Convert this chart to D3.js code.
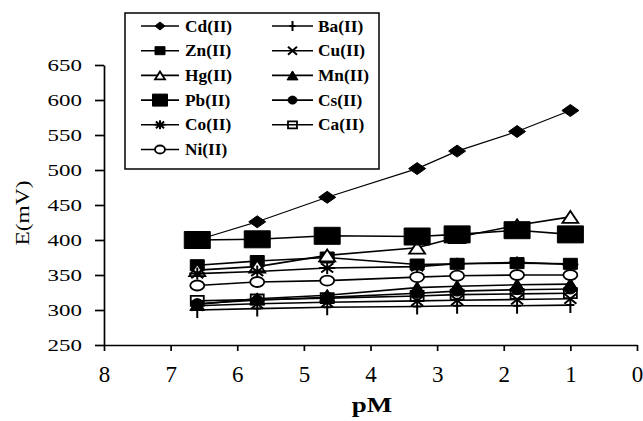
<!DOCTYPE html>
<html><head><meta charset="utf-8">
<script src="https://cdn.jsdelivr.net/npm/d3@7"></script>
<style>body{margin:0;background:#fff}svg{display:block}</style>
</head><body><svg id="c" width="643" height="421"></svg>
<script>
// ---- data ----
const pM = [6.6, 5.7, 4.65, 3.3, 2.7, 1.8, 1.0];
const xTicks = [8, 7, 6, 5, 4, 3, 2, 1, 0];
const yTicks = [250, 300, 350, 400, 450, 500, 550, 600, 650];
const legendOrder = ["Cd(II)", "Ba(II)", "Zn(II)", "Cu(II)", "Hg(II)", "Mn(II)", "Pb(II)", "Cs(II)", "Co(II)", "Ca(II)", "Ni(II)"];
const Cd = [400, 426, 461, 502, 527, 555, 585];
const Ba = [300, 302, 304, 305, 306, 306, 307];
const Zn = [364, 370, 375, 365, 366, 367, 366];
const Cu = [306, 309, 311, 313, 314, 315, 316];
const Hg = [357, 362, 378, 389, 404, 421, 433];
const Mn = [308, 316, 321, 332, 334, 336, 337];
const Pb = [400, 401, 406, 405, 408, 414, 408];
const Cs = [309, 314, 318, 324, 327, 329, 330];
const Co = [352, 355, 360, 362, 366, 368, 365];
const Ca = [313, 315, 317, 320, 322, 323, 324];
const Ni = [335, 340, 342, 347, 349, 350, 350];
const seriesValues = {"Cd(II)": Cd, "Ba(II)": Ba, "Zn(II)": Zn, "Cu(II)": Cu, "Hg(II)": Hg, "Mn(II)": Mn,
  "Pb(II)": Pb, "Cs(II)": Cs, "Co(II)": Co, "Ca(II)": Ca, "Ni(II)": Ni};

// ---- styles ----
const markerStyle = {
  "Cd(II)": {t: "diamond", w: 17, h: 12, fill: "black", line: 1.2, legW: 10, legH: 8},
  "Ba(II)": {t: "plus", w: 8, h: 16, fill: "none", line: 1.6, legW: 6, legH: 10},
  "Zn(II)": {t: "square", w: 14, h: 11, fill: "black", line: 1.6, legW: 10, legH: 8},
  "Cu(II)": {t: "cross", w: 12, h: 10, fill: "none", line: 1.6, legW: 9, legH: 8},
  "Hg(II)": {t: "triangle", w: 16, h: 12, fill: "white", line: 1.6, legW: 10, legH: 8},
  "Mn(II)": {t: "triangle", w: 15, h: 12, fill: "black", line: 1.6, legW: 11, legH: 9},
  "Pb(II)": {t: "square", w: 26, h: 17, fill: "black", line: 1.6, legW: 15, legH: 12},
  "Cs(II)": {t: "circle", w: 12, h: 10, fill: "black", line: 1.6, legW: 9, legH: 8},
  "Co(II)": {t: "asterisk", w: 16, h: 12, fill: "none", line: 1.6, legW: 11, legH: 9},
  "Ca(II)": {t: "square", w: 13, h: 10, fill: "none", line: 1.6, legW: 9, legH: 7},
  "Ni(II)": {t: "circle", w: 14, h: 10, fill: "white", line: 1.6, legW: 10, legH: 8}
};
const drawOrder = legendOrder;

function markerPath(t, w, h) {
  const a = w / 2, b = h / 2;
  switch (t) {
    case "diamond": return `M0,${-b}L${a},0L0,${b}L${-a},0Z`;
    case "square": return `M${-a},${-b}H${a}V${b}H${-a}Z`;
    case "triangle": return `M0,${-b}L${a},${b}H${-a}Z`;
    case "circle": return `M${-a},0A${a},${b} 0 1 0 ${a},0A${a},${b} 0 1 0 ${-a},0Z`;
    case "asterisk": return `M${-a},0H${a}M0,${-b}V${b}M${-a*0.75},${-b*0.75}L${a*0.75},${b*0.75}M${-a*0.75},${b*0.75}L${a*0.75},${-b*0.75}`;
    case "plus": return `M0,${-b}V${b}M${-a},0H${a}`;
    case "cross": return `M${-a},${-b}L${a},${b}M${-a},${b}L${a},${-b}`;
  }
}
function styleMarker(sel, st) {
  const stroked = ["asterisk", "plus", "cross"].includes(st.t);
  sel.attr("fill", stroked ? "none" : st.fill)
     .attr("stroke", "black")
     .attr("stroke-width", stroked ? 2 : (st.fill === "black" ? 1 : 1.8));
}

const svg = d3.select("#c");
svg.append("rect").attr("width", 643).attr("height", 421).attr("fill", "white");

const x = d3.scaleLinear().domain([8, 0]).range([104, 637]);
const y = d3.scaleLinear().domain([250, 650]).range([345, 65]);

// axes
const yAxis = svg.append("g").attr("transform", "translate(104,0)")
  .call(d3.axisLeft(y).tickValues(yTicks).tickSize(9).tickSizeOuter(0).tickFormat(d3.format("d")));
yAxis.selectAll("path,line").attr("stroke", "black").attr("stroke-width", 1.7);
yAxis.selectAll("text").attr("font-family", "'Liberation Serif', serif").attr("font-size", 17)
  .attr("fill", "black").attr("x", -16.3).attr("dy", "0.35em").attr("transform", "scale(1.35,1)");

const xAxis = svg.append("g").attr("transform", "translate(0,345)")
  .call(d3.axisBottom(x).tickValues(xTicks).tickSize(6).tickSizeOuter(0).tickFormat(d3.format("d")));
xAxis.selectAll("path,line").attr("stroke", "black").attr("stroke-width", 1.7);
xAxis.selectAll("text").attr("font-family", "'Liberation Serif', serif").attr("font-size", 23)
  .attr("fill", "black").attr("y", 36.7).attr("dy", 0);

// axis titles
svg.append("text").attr("transform", "translate(29,213) rotate(-90) scale(1.3,1)")
  .attr("text-anchor", "middle").attr("font-family", "'Liberation Serif', serif")
  .attr("fill", "black").attr("font-size", 18).text("E(mV)");
svg.append("text").attr("transform", "translate(372,412) scale(1.35,1)")
  .attr("text-anchor", "middle").attr("font-family", "'Liberation Serif', serif")
  .attr("fill", "black").attr("font-weight", "bold").attr("font-size", 20).text("pM");

// series
const line = d3.line().x((d, i) => x(pM[i])).y(d => y(d));
drawOrder.forEach(name => {
  const vals = seriesValues[name], st = markerStyle[name];
  const g = svg.append("g");
  g.append("path").datum(vals).attr("d", line).attr("fill", "none")
    .attr("stroke", "black").attr("stroke-width", st.line);
  g.selectAll("path.m").data(vals).enter().append("path").attr("class", "m")
    .attr("transform", (d, i) => `translate(${x(pM[i])},${y(d)})`)
    .attr("d", markerPath(st.t, st.w, st.h))
    .call(styleMarker, st);
});

// legend
const leg = svg.append("g");
leg.append("rect").attr("x", 125).attr("y", 13).attr("width", 254).attr("height", 156)
  .attr("fill", "white").attr("stroke", "black").attr("stroke-width", 1.5);
legendOrder.forEach((name, i) => {
  const col = i % 2, row = Math.floor(i / 2);
  const cy = 26 + row * 24.7;
  const x0 = col === 0 ? 141 : 272, x1 = col === 0 ? 179 : 313;
  const mx = (x0 + x1) / 2, tx = col === 0 ? 185 : 318;
  const st = markerStyle[name];
  leg.append("line").attr("x1", x0).attr("x2", x1).attr("y1", cy).attr("y2", cy)
    .attr("stroke", "black").attr("stroke-width", 1.6);
  leg.append("path").attr("transform", `translate(${mx},${cy})`)
    .attr("d", markerPath(st.t, st.legW, st.legH)).call(styleMarker, st);
  leg.append("text").attr("transform", `translate(${tx},${cy + 5.5}) scale(1.05,1)`)
    .attr("font-family", "'Liberation Serif', serif").attr("font-weight", "bold")
    .attr("fill", "black").attr("font-size", 16.5).text(name);
});
</script></body></html>
